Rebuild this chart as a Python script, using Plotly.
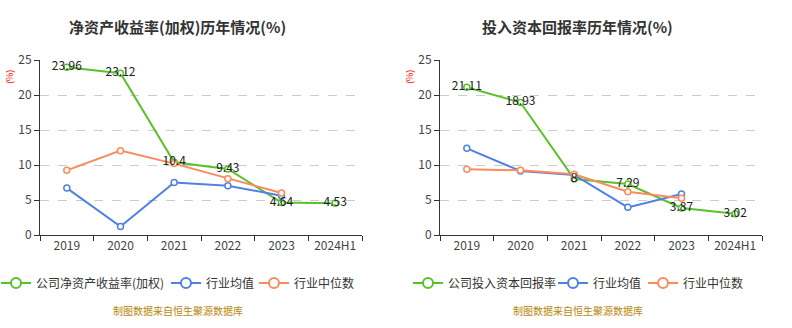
import plotly.graph_objects as go

years = ["2019", "2020", "2021", "2022", "2023", "2024H1"]
years_ind = ["2019", "2020", "2021", "2022", "2023"]

roe_company = [23.96, 23.12, 10.4, 9.43, 4.64, 4.53]
roe_ind_mean = [6.7, 1.2, 7.5, 7.05, 5.6]
roe_ind_median = [9.24, 12.05, 10.2, 8.05, 6.0]

roic_company = [21.11, 18.93, 8, 7.29, 3.87, 3.02]
roic_ind_mean = [12.38, 9.14, 8.57, 3.95, 5.86]
roic_ind_median = [9.38, 9.24, 8.67, 6.19, 5.24]

W, H = 792, 328
FONT = "Noto Sans CJK SC"
GREEN = "#57c22a"
BLUE = "#4f80e6"
ORANGE = "#fb8b5d"

def px(x):
    return x / W

def py(y):
    return 1 - y / H

fig = go.Figure()
legend_ids = ["legend", "legend2", "legend3", "legend4", "legend5", "legend6"]
legend_x = [-4, 166, 254, 408, 553, 643]

def add_side(side, xa, ya, comp, mean, median, comp_name):
    series = [
        (comp_name, years, comp, GREEN),
        ("行业均值", years_ind, mean, BLUE),
        ("行业中位数", years_ind, median, ORANGE),
    ]
    for name, xs, ys, col in series:
        fig.add_trace(go.Scatter(
            x=xs, y=ys, name=name, mode="lines+markers",
            line=dict(color=col, width=2),
            marker=dict(symbol="circle", size=6, color="white",
                        line=dict(color=col, width=1.5)),
            xaxis=xa, yaxis=ya, showlegend=False, hoverinfo="skip",
        ))
    # legend entries (bigger symbol like the reference), one legend per entry
    for k, (name, xs, ys, col) in enumerate(series):
        fig.add_trace(go.Scatter(
            x=[None], y=[None], name=name, mode="lines+markers",
            line=dict(color=col, width=2),
            marker=dict(symbol="circle", size=10, color="white",
                        line=dict(color=col, width=2)),
            xaxis=xa, yaxis=ya, legend=legend_ids[side * 3 + k],
            showlegend=True, hoverinfo="skip",
        ))
    fig.add_trace(go.Scatter(
        x=years, y=comp, mode="text", text=[f"{v:g}" for v in comp],
        textposition="middle center",
        textfont=dict(family=FONT, size=12, color="#222"),
        xaxis=xa, yaxis=ya, showlegend=False, hoverinfo="skip",
    ))

add_side(0, "x", "y", roe_company, roe_ind_mean, roe_ind_median, "公司净资产收益率(加权)")
add_side(1, "x2", "y2", roic_company, roic_ind_mean, roic_ind_median, "公司投入资本回报率")

ydom = [py(235), py(60)]
axis_common = dict(
    showline=True, linecolor="#333", linewidth=1,
    ticks="outside", ticklen=5, tickcolor="#333",
    tickfont=dict(family=FONT, size=12, color="#444"),
)
for i, (x0, x1) in enumerate([(40, 362), (440, 762)]):
    sfx = "" if i == 0 else str(i + 1)
    fig.update_layout(**{
        "xaxis" + sfx: dict(domain=[px(x0), px(x1)], type="category",
                            categoryorder="array", categoryarray=years,
                            range=[-0.5, 5.5], tickson="boundaries",
                            showgrid=False, zeroline=False,
                            anchor="y" + sfx, fixedrange=True, **axis_common),
        "yaxis" + sfx: dict(domain=ydom, range=[0, 25], dtick=5,
                            showgrid=True, gridcolor="#cccccc", griddash="dash",
                            gridwidth=1, zeroline=False,
                            anchor="x" + sfx, fixedrange=True, **axis_common),
    })

annotations = []
for cx, title in [(177, "净资产收益率(加权)历年情况(%)"), (577, "投入资本回报率历年情况(%)")]:
    annotations.append(dict(x=px(cx), y=py(27), xref="paper", yref="paper",
                            text=f"<b>{title}</b>", showarrow=False,
                            font=dict(family=FONT, size=15, color="#333"),
                            xanchor="center", yanchor="middle"))
    annotations.append(dict(x=px(cx + 1), y=py(310), xref="paper", yref="paper",
                            text="制图数据来自恒生聚源数据库", showarrow=False,
                            font=dict(family=FONT, size=10, color="#b8860b"),
                            xanchor="center", yanchor="middle"))
for lx in (9, 409):
    annotations.append(dict(x=px(lx), y=py(77), xref="paper", yref="paper",
                            text="(%)", showarrow=False, textangle=-90,
                            font=dict(family=FONT, size=9, color="red"),
                            xanchor="center", yanchor="middle"))

legend_common = dict(orientation="h", yanchor="middle", y=py(283),
                     xanchor="left", bgcolor="rgba(0,0,0,0)",
                     font=dict(family=FONT, size=12, color="#333"),
                     itemwidth=30, tracegroupgap=0)
legends = {lid: dict(x=px(lx), **legend_common) for lid, lx in zip(legend_ids, legend_x)}

fig.update_layout(
    width=W, height=H, margin=dict(l=0, r=0, t=0, b=0, autoexpand=False),
    paper_bgcolor="white", plot_bgcolor="white",
    annotations=annotations,
    showlegend=True,
    **legends,
)

fig.write_html("out.html")
